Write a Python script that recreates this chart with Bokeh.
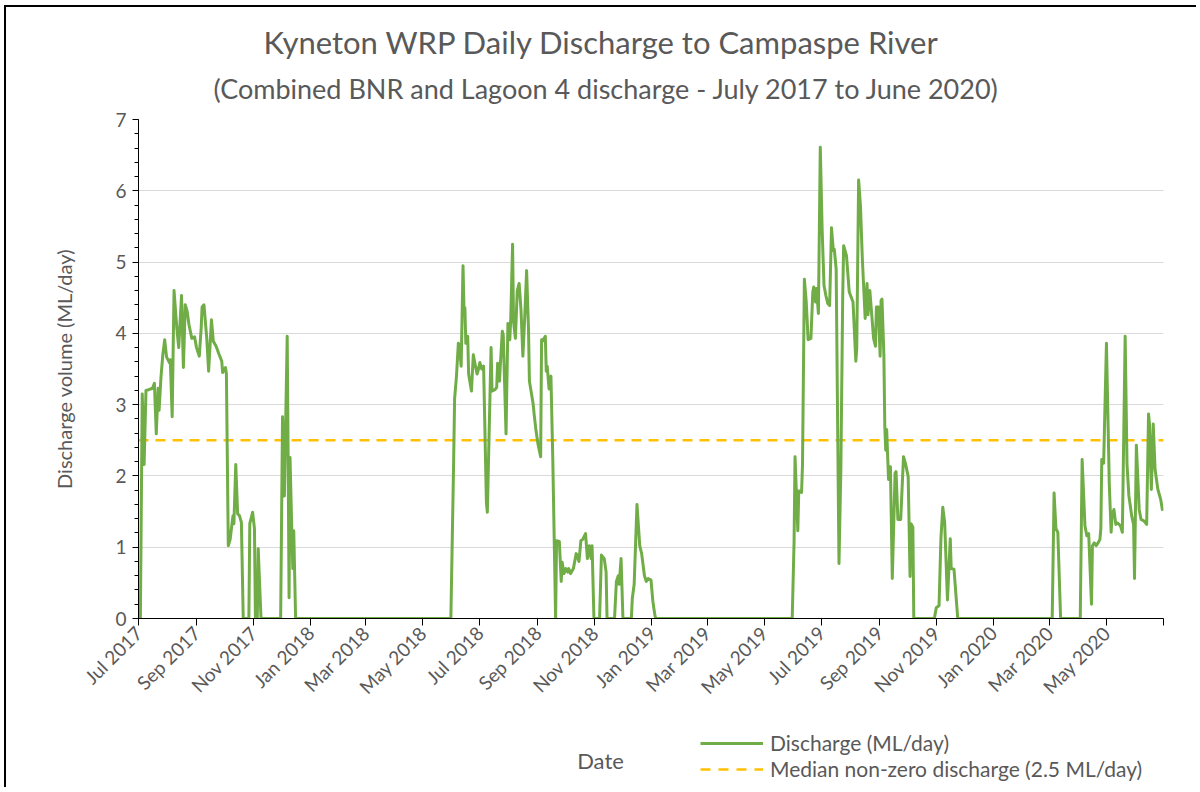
import math
import pandas as pd
from bokeh.plotting import figure
from bokeh.layouts import column
from bokeh.models import (Range1d, Title, Label, Legend, LegendItem, FixedTicker,
                          SingleIntervalTicker)
from bokeh.embed import file_html
from bokeh.resources import INLINE

# ---------------- data ----------------
start_date = "2017-07-01"
end_date = "2020-07-01"

# days since 1 Jul 2017 and daily discharge (ML/day), July 2017 - June 2018
days_fy1 = [0, 2, 4, 6, 8, 11, 15, 17, 19, 21, 22, 24, 26, 28, 30, 33, 34, 36, 38, 41,
            43, 46, 48, 50, 52, 54, 57, 60, 62, 65, 67, 68, 70, 73, 75, 78, 80, 83, 86, 89,
            90, 93, 94, 96, 98, 100, 101, 102, 104, 106, 108, 110, 112, 118, 119, 122, 124, 125, 127, 128,
            131, 152, 154, 156, 159, 160, 161, 162, 164, 165, 166, 168]
vals_fy1 = [0, 0, 3.15, 2.16, 3.20, 3.21, 3.23, 3.30, 2.59, 3.23, 2.92, 3.38, 3.70, 3.91, 3.67, 3.59, 3.63, 2.83, 4.60, 4.07,
            3.80, 4.53, 3.52, 4.40, 4.31, 4.12, 3.93, 3.95, 3.80, 3.68, 4.07, 4.37, 4.40, 3.93, 3.47, 4.19, 3.89, 3.82, 3.71, 3.61,
            3.45, 3.52, 3.43, 1.02, 1.11, 1.33, 1.44, 1.33, 2.16, 1.47, 1.44, 1.35, 0, 0, 1.33, 1.49, 1.26, 0, 0, 0.98,
            0, 0, 2.83, 1.72, 3.96, 2.27, 0.29, 2.26, 1.21, 0.70, 1.23, 0]

# July 2018 - June 2019
days_fy2 = [334, 337, 338, 340, 342, 343, 345, 347, 348, 349, 350, 352, 353, 356, 358, 360, 362, 363, 365, 367,
            369, 372, 373, 377, 378, 381, 383, 384, 386, 387, 389, 390, 393, 395, 397, 398, 400, 401, 403, 405,
            407, 409, 411, 413, 415, 417, 418, 422, 423, 425, 427, 430, 431, 432, 435, 436, 437, 439, 441, 443,
            446, 447, 450, 452, 453, 455, 457, 459, 460, 462, 465, 468, 469, 471, 473, 475, 478, 480, 482, 484,
            485, 487, 493, 495, 498, 500, 501, 509, 511, 513, 514, 516, 518, 527, 528, 530, 533, 536, 538, 541,
            543, 545, 548, 550, 552, 553]
vals_fy2 = [0, 2.23, 3.08, 3.40, 3.86, 3.84, 3.54, 4.95, 4.37, 4.36, 3.86, 3.96, 3.43, 3.19, 3.70, 3.56, 3.43, 3.47, 3.59, 3.50,
            3.54, 1.63, 1.49, 3.80, 3.19, 3.21, 3.24, 3.58, 3.33, 3.58, 4.03, 3.98, 2.59, 4.14, 3.91, 4.19, 5.25, 4.17, 3.93, 4.60,
            4.70, 4.33, 3.68, 4.23, 4.88, 4.07, 3.33, 3.01, 2.87, 2.64, 2.46, 2.27, 3.91, 3.89, 3.96, 3.47, 3.54, 3.22, 3.40, 2.23,
            0, 1.09, 1.08, 0.52, 0.79, 0.63, 0.70, 0.65, 0.70, 0.63, 0.70, 0.91, 0.89, 0.80, 1.09, 1.11, 1.19, 0.84, 1.02, 0.84,
            1.02, 0, 0, 0.89, 0.84, 0.65, 0, 0, 0.52, 0.60, 0.48, 0.84, 0, 0, 0.28, 0.48, 1.60, 1.02, 0.91, 0.60,
            0.52, 0.56, 0.54, 0.24, 0.06, 0]

# July 2019 - June 2020
days_fy3 = [699, 701, 702, 705, 706, 709, 710, 712, 714, 716, 719, 721, 722, 724, 725, 727, 729, 731, 733, 735,
            737, 739, 741, 743, 744, 746, 749, 751, 753, 754, 757, 760, 762, 764, 767, 768, 770, 772, 774, 777,
            779, 780, 782, 786, 788, 789, 791, 793, 794, 795, 797, 798, 799, 800, 802, 804, 806, 809, 810, 812,
            815, 818, 820, 823, 825, 826, 828, 829, 851, 853, 856, 858, 860, 862, 865, 868, 869, 872, 876, 977,
            979, 981, 983, 986, 1007, 1009, 1012, 1014, 1016, 1019, 1020, 1022, 1024, 1026, 1028, 1029, 1030, 1032, 1035, 1038,
            1040, 1041, 1043, 1045, 1047, 1050, 1052, 1055, 1057, 1059, 1062, 1064, 1065, 1067, 1070, 1072, 1075, 1078, 1080, 1081,
            1083, 1085, 1087, 1090, 1093, 1095]
vals_fy3 = [0, 1.09, 2.27, 1.23, 1.79, 1.77, 2.16, 4.76, 4.44, 3.91, 3.93, 4.58, 4.65, 4.44, 4.63, 4.28, 6.61, 5.46, 4.67, 4.53,
            4.42, 4.39, 5.48, 5.16, 5.18, 4.90, 0.77, 2.09, 4.53, 5.23, 5.09, 4.58, 4.51, 4.44, 3.61, 3.79, 6.15, 5.78, 5.04, 4.21,
            4.70, 4.26, 4.60, 3.93, 3.82, 4.37, 4.37, 3.68, 4.46, 4.48, 3.70, 2.69, 2.36, 2.65, 1.95, 2.13, 0.56, 2.04, 2.06, 1.39,
            1.39, 2.27, 2.18, 1.99, 0.59, 1.33, 1.28, 0, 0, 0.15, 0.18, 1.12, 1.56, 1.35, 0.26, 1.12, 0.70, 0.69, 0, 0,
            1.76, 1.26, 1.21, 0, 0, 2.23, 1.30, 1.16, 1.19, 0.20, 1.02, 1.06, 1.02, 1.06, 1.11, 1.26, 2.23, 2.18, 3.86, 1.90,
            1.21, 1.44, 1.53, 1.32, 1.34, 1.30, 1.21, 3.96, 2.16, 1.72, 1.44, 1.32, 0.56, 2.43, 1.53, 1.39, 1.37, 1.32, 2.87, 2.73,
            1.81, 2.73, 2.09, 1.81, 1.67, 1.51]

median_nonzero = 2.5

tick_dates = ["2017-07-01", "2017-09-01", "2017-11-01", "2018-01-01", "2018-03-01", "2018-05-01",
              "2018-07-01", "2018-09-01", "2018-11-01", "2019-01-01", "2019-03-01", "2019-05-01",
              "2019-07-01", "2019-09-01", "2019-11-01", "2020-01-01", "2020-03-01", "2020-05-01",
              "2020-07-01"]
tick_labels = ["Jul 2017", "Sep 2017", "Nov 2017", "Jan 2018", "Mar 2018", "May 2018",
               "Jul 2018", "Sep 2018", "Nov 2018", "Jan 2019", "Mar 2019", "May 2019",
               "Jul 2019", "Sep 2019", "Nov 2019", "Jan 2020", "Mar 2020", "May 2020",
               ""]

title_text = "Kyneton WRP Daily Discharge to Campaspe River"
subtitle_text = "(Combined BNR and Lagoon 4 discharge - July 2017 to June 2020)"
x_title = "Date"
y_title = "Discharge volume (ML/day)"
legend_labels = ["Discharge (ML/day)", "Median non-zero discharge (2.5 ML/day)"]

# ---------------- build ----------------
FONT = "Lato"
GREY = "#595959"
GREEN = "#70AD47"
GOLD = "#FFC000"
W = 1190
BORDER_L, BORDER_R = 132, 33
FRAME_W = W - BORDER_L - BORDER_R

t0 = pd.Timestamp(start_date)
t1 = pd.Timestamp(end_date)
all_days = days_fy1 + days_fy2 + days_fy3
all_vals = vals_fy1 + vals_fy2 + vals_fy3
dates = t0 + pd.to_timedelta(all_days, unit="D")


def ms(ts):
    return pd.Timestamp(ts).value / 1e6


# ---- main chart ----
p = figure(width=W, height=702, x_axis_type="datetime",
           output_backend="svg", toolbar_location=None,
           x_range=Range1d(t0, t1), y_range=Range1d(0, 7),
           min_border_left=BORDER_L, min_border_right=BORDER_R,
           min_border_top=112, min_border_bottom=85)
p.outline_line_color = None
p.background_fill_color = "white"
p.border_fill_color = "white"

p.title.text = title_text
p.title.align = "left"
p.title.offset = 125
p.title.text_font = FONT
p.title.text_font_size = "31px"
p.title.text_font_style = "normal"
p.title.text_color = GREY
p.title.standoff = -13
sub = Title(text=subtitle_text, align="left", offset=75, text_font=FONT,
            text_font_size="27px", text_font_style="normal", text_color=GREY,
            standoff=30)
p.add_layout(sub, "above")

p.xgrid.grid_line_color = None
p.ygrid.grid_line_color = "#D9D9D9"
p.ygrid.grid_line_width = 1

p.yaxis.ticker = SingleIntervalTicker(interval=1, num_minor_ticks=5)
p.yaxis.axis_line_color = "#000000"
p.yaxis.major_tick_line_color = "#000000"
p.yaxis.minor_tick_line_color = "#000000"
p.yaxis.major_tick_out = 6
p.yaxis.major_tick_in = 0
p.yaxis.minor_tick_out = 4
p.yaxis.minor_tick_in = 0
p.yaxis.major_label_text_font = FONT
p.yaxis.major_label_text_font_size = "19px"
p.yaxis.major_label_text_color = GREY
p.yaxis.major_label_standoff = 6
p.yaxis.axis_label = y_title
p.yaxis.axis_label_text_font = FONT
p.yaxis.axis_label_text_font_size = "20px"
p.yaxis.axis_label_text_font_style = "normal"
p.yaxis.axis_label_text_color = GREY
p.yaxis.axis_label_standoff = 36

p.xaxis.ticker = FixedTicker(ticks=[ms(d) for d in tick_dates])
p.xaxis.major_label_overrides = {ms(d): lab for d, lab in zip(tick_dates, tick_labels)}
p.xaxis.major_label_orientation = math.pi / 4
p.xaxis.axis_line_color = "#000000"
p.xaxis.major_tick_line_color = "#000000"
p.xaxis.major_tick_out = 7
p.xaxis.major_tick_in = 0
p.xaxis.minor_tick_line_color = None
p.xaxis.major_label_text_font = FONT
p.xaxis.major_label_text_font_size = "19px"
p.xaxis.major_label_text_color = GREY
p.xaxis.major_label_standoff = 4

p.line([t0, t1], [median_nonzero, median_nonzero], line_color=GOLD,
       line_width=2.5, line_dash="10 7")
p.line(dates, all_vals, line_color=GREEN, line_width=3, line_join="round")

# ---- strip below: axis title and legend (frame aligned with main frame) ----
H2 = 78
p2 = figure(width=W, height=H2, output_backend="svg", toolbar_location=None,
            x_range=Range1d(0, FRAME_W), y_range=Range1d(H2, 0),
            x_axis_location=None, y_axis_location=None,
            min_border_left=BORDER_L, min_border_right=BORDER_R,
            min_border_top=0, min_border_bottom=0)
p2.title.visible = False
p2.outline_line_color = None
p2.background_fill_color = "white"
p2.border_fill_color = "white"
p2.grid.visible = False

nan = float("nan")
leg_discharge = p2.line(x=[nan], y=[nan], line_color=GREEN, line_width=3)
leg_median = p2.line(x=[nan], y=[nan], line_color=GOLD, line_width=2.5, line_dash="10 8")
legend = Legend(items=[LegendItem(label=legend_labels[0], renderers=[leg_discharge]),
                       LegendItem(label=legend_labels[1], renderers=[leg_median])],
                location=(562, 6), orientation="vertical",
                glyph_width=63, glyph_height=20, label_height=20, label_standoff=7,
                spacing=1, padding=0, margin=0,
                border_line_color=None, background_fill_alpha=0,
                label_text_font=FONT, label_text_font_size="21px",
                label_text_color=GREY)
p2.add_layout(legend)
p2.add_layout(Label(x=462, y=51, text=x_title, text_align="center",
                    text_baseline="middle", text_font=FONT,
                    text_font_size="22px", text_color=GREY))

layout = column(p, p2, spacing=0)
layout.styles = {"position": "relative", "left": "4px", "top": "5px",
                 "border-left": "2px solid #000000", "border-top": "2px solid #000000"}

open("out.html", "w").write(file_html(layout, INLINE))
